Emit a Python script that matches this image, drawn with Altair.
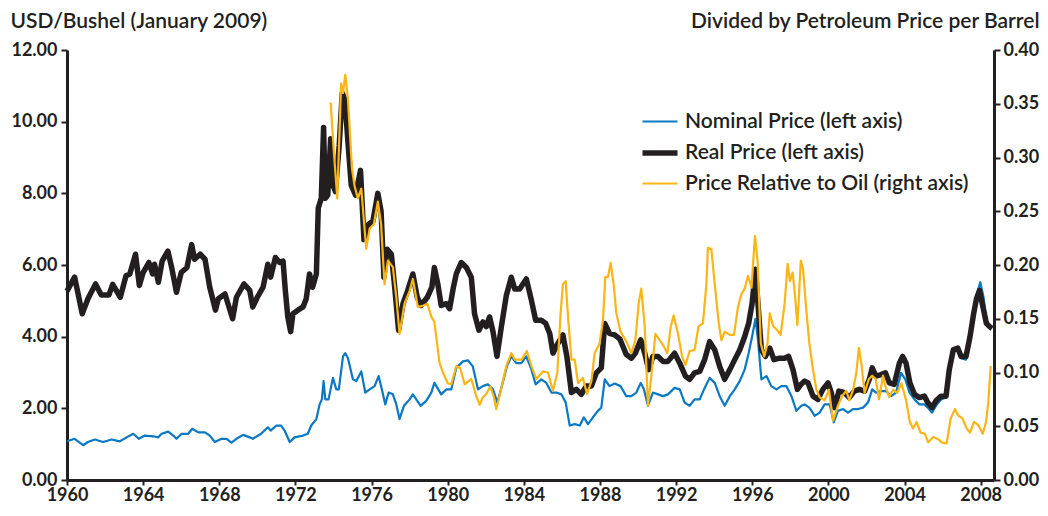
import altair as alt
import pandas as pd

FONT = "Lato"
DARK = "#231f20"
BLUE = "#0a78c2"
BLACK = "#231f20"
GOLD = "#fbb516"

SERIES = ["Nominal Price (left axis)", "Real Price (left axis)", "Price Relative to Oil (right axis)"]
COLORS = [BLUE, BLACK, GOLD]
WIDTHS = [2.2, 5.5, 2.2]

X_TICKS = list(range(1960, 2009, 4))
LEFT_TICKS = [0, 2, 4, 6, 8, 10, 12]
RIGHT_TICKS = [0, 0.05, 0.10, 0.15, 0.20, 0.25, 0.30, 0.35, 0.40]

# (year, USD/bushel)
nominal = [
    (1960.0, 1.08), (1960.4, 1.15), (1960.85, 0.97), (1961.1, 1.06), (1961.46, 1.13), (1961.9, 1.06),
    (1962.34, 1.13), (1962.78, 1.08), (1963.13, 1.19), (1963.48, 1.29), (1963.77, 1.15), (1964.09, 1.24),
    (1964.53, 1.22), (1964.8, 1.19), (1964.97, 1.29), (1965.32, 1.35), (1965.58, 1.24), (1965.75, 1.15),
    (1966.02, 1.29), (1966.37, 1.29), (1966.58, 1.43), (1966.9, 1.33), (1967.25, 1.33), (1967.5, 1.24),
    (1967.77, 1.06), (1968.12, 1.15), (1968.38, 1.15), (1968.64, 1.04), (1968.9, 1.15), (1969.26, 1.26),
    (1969.6, 1.19), (1969.76, 1.15), (1970.2, 1.29), (1970.55, 1.47), (1970.7, 1.38), (1971.0, 1.52),
    (1971.25, 1.52), (1971.43, 1.38), (1971.7, 1.06), (1971.95, 1.19), (1972.4, 1.24), (1972.65, 1.29),
    (1972.83, 1.52), (1973.1, 1.70), (1973.27, 2.11), (1973.39, 2.25), (1973.48, 2.76), (1973.57, 2.25),
    (1973.74, 2.25), (1973.97, 2.85), (1974.15, 2.53), (1974.28, 2.53), (1974.5, 3.45), (1974.62, 3.54),
    (1974.76, 3.40), (1975.02, 2.81), (1975.2, 2.76), (1975.46, 3.03), (1975.67, 2.44), (1975.9, 2.53),
    (1976.16, 2.62), (1976.37, 2.90), (1976.54, 2.53), (1976.72, 2.11), (1976.9, 2.44), (1977.12, 2.39),
    (1977.3, 2.11), (1977.47, 1.70), (1977.7, 2.07), (1978.0, 2.25), (1978.17, 2.39), (1978.35, 2.25),
    (1978.58, 2.07), (1978.87, 2.21), (1979.14, 2.44), (1979.3, 2.71), (1979.66, 2.39), (1979.93, 2.53),
    (1980.19, 2.53), (1980.45, 3.13), (1980.8, 3.31), (1981.06, 3.34), (1981.32, 3.17), (1981.59, 2.53),
    (1981.85, 2.62), (1982.11, 2.67), (1982.38, 2.53), (1982.61, 2.16), (1982.82, 2.57), (1983.11, 3.17),
    (1983.34, 3.45), (1983.6, 3.26), (1983.87, 3.26), (1984.13, 3.45), (1984.4, 3.08), (1984.62, 2.67),
    (1984.92, 2.81), (1985.18, 2.71), (1985.45, 2.44), (1985.71, 2.44), (1985.97, 2.39), (1986.2, 2.16),
    (1986.41, 1.52), (1986.67, 1.56), (1986.94, 1.52), (1987.15, 1.75), (1987.37, 1.56), (1987.63, 1.75),
    (1987.89, 1.93), (1988.07, 2.02), (1988.25, 2.81), (1988.5, 2.62), (1988.77, 2.69), (1989.08, 2.62),
    (1989.38, 2.34), (1989.65, 2.34), (1989.91, 2.44), (1990.14, 2.71), (1990.31, 2.53), (1990.52, 2.07),
    (1990.78, 2.44), (1991.05, 2.39), (1991.31, 2.34), (1991.57, 2.39), (1991.92, 2.57), (1992.19, 2.53),
    (1992.45, 2.16), (1992.71, 2.07), (1992.97, 2.25), (1993.24, 2.25), (1993.5, 2.57), (1993.76, 2.85),
    (1994.03, 2.71), (1994.29, 2.34), (1994.55, 2.07), (1994.82, 2.34), (1995.08, 2.53), (1995.34, 2.76),
    (1995.6, 3.08), (1995.81, 3.54), (1995.99, 4.00), (1996.17, 4.50), (1996.3, 3.91), (1996.48, 2.81),
    (1996.75, 2.90), (1997.0, 2.62), (1997.27, 2.53), (1997.53, 2.62), (1997.79, 2.62), (1998.06, 2.34),
    (1998.32, 1.93), (1998.58, 2.07), (1998.75, 2.11), (1999.0, 2.02), (1999.28, 1.79), (1999.54, 1.88),
    (1999.8, 2.11), (2000.07, 2.11), (2000.28, 1.61), (2000.5, 1.93), (2000.77, 1.98), (2001.03, 1.88),
    (2001.29, 1.98), (2001.55, 1.98), (2001.82, 2.02), (2002.08, 2.16), (2002.3, 2.53), (2002.5, 2.44),
    (2002.77, 2.48), (2003.03, 2.48), (2003.3, 2.34), (2003.55, 2.44), (2003.82, 2.99), (2004.04, 2.81),
    (2004.26, 2.44), (2004.52, 2.25), (2004.78, 2.11), (2005.04, 2.11), (2005.22, 2.02), (2005.44, 1.88),
    (2005.65, 2.07), (2005.92, 2.25), (2006.18, 2.30), (2006.35, 2.99), (2006.56, 3.59), (2006.8, 3.63),
    (2006.97, 3.40), (2007.23, 3.36), (2007.44, 4.00), (2007.63, 4.74), (2007.8, 5.19), (2007.98, 5.52),
    (2008.15, 5.10), (2008.33, 4.32), (2008.52, 4.23),
]

# (year, USD/bushel in January 2009 dollars)
real = [
    (1960.0, 5.27), (1960.4, 5.66), (1960.8, 4.64), (1961.1, 5.06), (1961.5, 5.47), (1961.8, 5.16),
    (1962.2, 5.16), (1962.4, 5.46), (1962.8, 5.10), (1963.1, 5.70), (1963.3, 5.75), (1963.6, 6.30),
    (1963.8, 5.43), (1964.0, 5.79), (1964.3, 6.07), (1964.5, 5.75), (1964.6, 6.02), (1964.8, 5.52),
    (1965.0, 6.11), (1965.3, 6.39), (1965.5, 5.93), (1965.75, 5.24), (1966.0, 5.79), (1966.3, 5.93),
    (1966.55, 6.57), (1966.7, 6.16), (1967.0, 6.30), (1967.25, 6.16), (1967.5, 5.38), (1967.8, 4.74),
    (1967.95, 5.06), (1968.3, 5.19), (1968.7, 4.50), (1968.9, 5.10), (1969.3, 5.47), (1969.6, 5.29),
    (1969.76, 4.83), (1970.0, 5.10), (1970.3, 5.38), (1970.55, 6.02), (1970.7, 5.66), (1970.95, 6.21),
    (1971.17, 6.07), (1971.35, 6.11), (1971.47, 5.29), (1971.6, 4.55), (1971.75, 4.14), (1971.87, 4.64),
    (1972.13, 4.74), (1972.4, 4.83), (1972.57, 5.06), (1972.74, 5.75), (1972.9, 5.38), (1973.1, 5.75),
    (1973.2, 7.59), (1973.36, 7.86), (1973.48, 9.84), (1973.57, 7.86), (1973.7, 7.95), (1973.85, 9.52),
    (1973.97, 8.23), (1974.1, 8.05), (1974.3, 9.33), (1974.46, 10.80), (1974.6, 10.62), (1974.76, 9.43),
    (1974.93, 8.23), (1975.16, 7.95), (1975.42, 8.64), (1975.6, 6.71), (1975.84, 7.13), (1976.07, 7.22),
    (1976.33, 8.00), (1976.5, 7.50), (1976.65, 5.66), (1976.82, 6.44), (1977.04, 6.30), (1977.2, 5.47),
    (1977.42, 4.18), (1977.65, 4.92), (1977.9, 5.29), (1978.17, 5.75), (1978.4, 5.10), (1978.6, 4.87),
    (1978.93, 5.10), (1979.17, 5.38), (1979.3, 5.93), (1979.48, 5.47), (1979.66, 4.87), (1979.93, 4.92),
    (1980.1, 4.78), (1980.3, 5.38), (1980.45, 5.75), (1980.71, 6.07), (1980.98, 5.93), (1981.24, 5.66),
    (1981.41, 4.64), (1981.64, 4.18), (1981.85, 4.41), (1982.03, 4.28), (1982.2, 4.55), (1982.38, 4.14),
    (1982.59, 3.45), (1982.82, 4.28), (1983.08, 5.15), (1983.34, 5.66), (1983.52, 5.33), (1983.78, 5.33),
    (1984.13, 5.61), (1984.4, 5.01), (1984.62, 4.46), (1984.92, 4.46), (1985.15, 4.37), (1985.36, 4.09),
    (1985.53, 3.54), (1985.8, 3.82), (1986.05, 4.05), (1986.26, 3.45), (1986.5, 2.44), (1986.76, 2.53),
    (1987.02, 2.39), (1987.28, 2.62), (1987.55, 2.62), (1987.81, 2.99), (1988.07, 3.13), (1988.25, 4.37),
    (1988.5, 4.09), (1988.77, 4.05), (1989.05, 3.93), (1989.38, 3.50), (1989.65, 3.40), (1989.86, 3.54),
    (1990.14, 3.91), (1990.35, 3.54), (1990.56, 3.08), (1990.78, 3.45), (1991.05, 3.45), (1991.31, 3.31),
    (1991.57, 3.31), (1991.92, 3.54), (1992.19, 3.26), (1992.49, 2.90), (1992.71, 2.81), (1992.97, 2.99),
    (1993.24, 3.03), (1993.5, 3.36), (1993.76, 3.86), (1994.03, 3.63), (1994.29, 3.17), (1994.55, 2.81),
    (1994.82, 3.08), (1995.08, 3.36), (1995.34, 3.63), (1995.6, 4.00), (1995.81, 4.37), (1995.99, 4.92),
    (1996.17, 5.88), (1996.3, 4.92), (1996.48, 3.63), (1996.69, 3.45), (1996.92, 3.68), (1997.14, 3.36),
    (1997.44, 3.40), (1997.7, 3.40), (1997.91, 3.45), (1998.14, 3.08), (1998.37, 2.53), (1998.58, 2.68),
    (1998.75, 2.76), (1998.93, 2.71), (1999.19, 2.34), (1999.45, 2.25), (1999.71, 2.53), (1999.98, 2.71),
    (2000.15, 2.44), (2000.33, 2.02), (2000.55, 2.48), (2000.85, 2.44), (2001.1, 2.30), (2001.36, 2.48),
    (2001.63, 2.53), (2001.9, 2.48), (2002.15, 2.81), (2002.3, 3.13), (2002.5, 2.90), (2002.77, 2.94),
    (2003.0, 2.99), (2003.2, 2.71), (2003.46, 2.67), (2003.73, 3.26), (2003.9, 3.45), (2004.08, 3.26),
    (2004.28, 2.71), (2004.52, 2.39), (2004.78, 2.30), (2005.04, 2.34), (2005.22, 2.16), (2005.44, 2.02),
    (2005.65, 2.21), (2005.92, 2.34), (2006.18, 2.34), (2006.35, 3.08), (2006.56, 3.63), (2006.8, 3.68),
    (2006.97, 3.45), (2007.23, 3.45), (2007.44, 4.00), (2007.63, 4.64), (2007.78, 5.06), (2007.94, 5.29),
    (2008.12, 4.83), (2008.3, 4.37), (2008.47, 4.28), (2008.6, 4.23),
]

# (year, price divided by petroleum price per barrel)
relative = [
    (1973.85, 0.351), (1974.02, 0.305), (1974.2, 0.262), (1974.4, 0.369), (1974.5, 0.360), (1974.62, 0.377),
    (1974.76, 0.354), (1974.97, 0.290), (1975.1, 0.274), (1975.28, 0.262), (1975.46, 0.271), (1975.72, 0.215),
    (1975.9, 0.234), (1976.12, 0.238), (1976.33, 0.259), (1976.5, 0.238), (1976.68, 0.182), (1976.86, 0.204),
    (1977.12, 0.198), (1977.3, 0.170), (1977.47, 0.136), (1977.73, 0.164), (1978.0, 0.176), (1978.17, 0.187),
    (1978.43, 0.161), (1978.7, 0.162), (1978.93, 0.164), (1979.14, 0.152), (1979.3, 0.147), (1979.57, 0.109),
    (1979.75, 0.100), (1980.0, 0.090), (1980.19, 0.089), (1980.45, 0.106), (1980.66, 0.104), (1980.89, 0.089),
    (1981.24, 0.094), (1981.5, 0.078), (1981.68, 0.070), (1981.85, 0.077), (1982.03, 0.080), (1982.24, 0.087),
    (1982.41, 0.078), (1982.55, 0.066), (1982.76, 0.081), (1983.08, 0.106), (1983.34, 0.118), (1983.52, 0.112),
    (1983.87, 0.112), (1984.16, 0.120), (1984.4, 0.106), (1984.66, 0.094), (1985.0, 0.101), (1985.27, 0.100),
    (1985.53, 0.083), (1985.76, 0.100), (1985.92, 0.152), (1986.05, 0.182), (1986.2, 0.185), (1986.32, 0.152),
    (1986.5, 0.112), (1986.67, 0.112), (1986.85, 0.090), (1987.1, 0.095), (1987.32, 0.080), (1987.55, 0.092),
    (1987.72, 0.118), (1987.98, 0.127), (1988.16, 0.149), (1988.28, 0.189), (1988.42, 0.189), (1988.56, 0.202),
    (1988.72, 0.182), (1988.86, 0.155), (1989.08, 0.138), (1989.38, 0.129), (1989.65, 0.118), (1989.86, 0.130),
    (1990.03, 0.164), (1990.17, 0.178), (1990.35, 0.143), (1990.52, 0.069), (1990.7, 0.097), (1990.91, 0.136),
    (1991.14, 0.130), (1991.36, 0.124), (1991.54, 0.118), (1991.72, 0.143), (1991.87, 0.153), (1992.1, 0.136),
    (1992.31, 0.115), (1992.49, 0.107), (1992.71, 0.120), (1992.97, 0.121), (1993.18, 0.143), (1993.41, 0.146),
    (1993.59, 0.182), (1993.67, 0.216), (1993.85, 0.215), (1994.03, 0.182), (1994.24, 0.146), (1994.38, 0.130),
    (1994.55, 0.138), (1994.82, 0.135), (1995.04, 0.135), (1995.25, 0.161), (1995.43, 0.173), (1995.6, 0.178),
    (1995.78, 0.190), (1995.96, 0.179), (1996.14, 0.227), (1996.28, 0.204), (1996.45, 0.127), (1996.63, 0.115),
    (1996.8, 0.127), (1996.92, 0.155), (1997.1, 0.143), (1997.33, 0.139), (1997.49, 0.135), (1997.7, 0.164),
    (1997.86, 0.201), (1997.98, 0.185), (1998.12, 0.193), (1998.24, 0.173), (1998.37, 0.144), (1998.55, 0.204),
    (1998.67, 0.196), (1998.84, 0.158), (1999.0, 0.127), (1999.19, 0.103), (1999.37, 0.084), (1999.54, 0.077),
    (1999.8, 0.074), (2000.03, 0.084), (2000.24, 0.055), (2000.5, 0.069), (2000.72, 0.078), (2000.94, 0.083),
    (2001.1, 0.074), (2001.3, 0.084), (2001.47, 0.100), (2001.6, 0.123), (2001.73, 0.109), (2001.9, 0.081),
    (2002.13, 0.094), (2002.3, 0.097), (2002.48, 0.094), (2002.66, 0.075), (2002.87, 0.097), (2003.0, 0.087),
    (2003.19, 0.077), (2003.4, 0.084), (2003.61, 0.081), (2003.84, 0.090), (2004.07, 0.075), (2004.28, 0.054),
    (2004.45, 0.048), (2004.63, 0.054), (2004.84, 0.044), (2005.07, 0.043), (2005.24, 0.035), (2005.5, 0.040),
    (2005.77, 0.038), (2005.95, 0.035), (2006.21, 0.034), (2006.42, 0.057), (2006.65, 0.066), (2006.82, 0.060),
    (2007.05, 0.057), (2007.26, 0.048), (2007.44, 0.044), (2007.65, 0.054), (2007.88, 0.051), (2008.11, 0.043),
    (2008.28, 0.054), (2008.4, 0.072), (2008.53, 0.106),
]

left_rows = [{"year": y, "value": v, "series": SERIES[0]} for y, v in nominal]
left_rows += [{"year": y, "value": v, "series": SERIES[1]} for y, v in real]
left_df = pd.DataFrame(left_rows)
right_df = pd.DataFrame([{"year": y, "ratio": v, "series": SERIES[2]} for y, v in relative])

axis_style = dict(
    grid=False, domainColor=DARK, domainWidth=3, tickColor=DARK, tickWidth=2,
    labelFont=FONT, labelFontSize=18, labelFontWeight="bold", labelColor=DARK,
    titleFont=FONT, titleFontSize=21, titleFontWeight=600, titleColor=DARK,
)

legend_style = dict(
    orient="none", legendX=580, legendY=60, title=None, padding=0,
    symbolType="M-1.75,0H1.75", symbolSize=400, labelOffset=12, rowPadding=8,
    labelLimit=500, labelFont=FONT, labelFontSize=21, labelFontWeight=600, labelColor=DARK,
)

x_enc = alt.X(
    "year:Q",
    scale=alt.Scale(domain=[1960, 2008.7], nice=False, zero=False),
    axis=alt.Axis(values=X_TICKS, format="d", title=None, labelFlush=False, labelPadding=1,
                  tickSize=5, **axis_style),
)
color_enc = alt.Color("series:N", scale=alt.Scale(domain=SERIES, range=COLORS),
                      legend=alt.Legend(**legend_style))
width_enc = alt.StrokeWidth("series:N", scale=alt.Scale(type="ordinal", domain=SERIES, range=WIDTHS),
                            legend=alt.Legend(**legend_style))

left = alt.Chart(left_df).mark_line(strokeJoin="round").encode(
    x=x_enc,
    y=alt.Y(
        "value:Q",
        scale=alt.Scale(domain=[0, 12], nice=False),
        axis=alt.Axis(
            orient="left", values=LEFT_TICKS, format=".2f", labelPadding=4, tickSize=6,
            title="USD/Bushel (January 2009)", titleAngle=0, titleAlign="left",
            titleBaseline="middle", titleX=-57, titleY=-29, **axis_style,
        ),
    ),
    color=color_enc,
    strokeWidth=width_enc,
    order="year:Q",
)

right = alt.Chart(right_df).mark_line(strokeJoin="round").encode(
    x=x_enc,
    y=alt.Y(
        "ratio:Q",
        scale=alt.Scale(domain=[0, 0.4], nice=False),
        axis=alt.Axis(
            orient="right", values=RIGHT_TICKS, format=".2f", labelPadding=3, tickSize=6,
            title="Divided by Petroleum Price per Barrel", titleAngle=0, titleAlign="right",
            titleBaseline="middle", titleX=45, titleY=-29, **axis_style,
        ),
    ),
    color=color_enc,
    strokeWidth=width_enc,
    order="year:Q",
)

chart = (
    alt.layer(left, right)
    .resolve_scale(y="independent")
    .properties(
        width=927, height=430,
        padding={"left": 59, "top": 42, "right": 46, "bottom": 24},
        autosize=alt.AutoSizeParams(type="none"),
        background="white",
    )
    .configure_view(stroke=None)
)

chart.save("out.html", embed_options={"renderer": "svg", "actions": False})
